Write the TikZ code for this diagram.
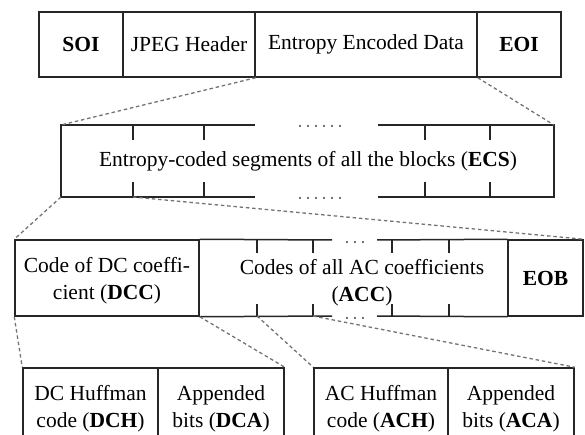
\documentclass[tikz,border=0pt]{standalone}
\usepackage{fontspec}
\setmainfont{Liberation Serif}
\begin{document}
\begin{tikzpicture}[x=1pt,y=-1pt,
  txt/.style={font=\fontsize{21.5}{27}\selectfont, align=center, inner sep=0pt},
  cell/.style={txt, draw=black!85, line width=1.5pt, rectangle},
  frame/.style={draw=black!85, line width=1.5pt},
  tickmark/.style={draw=black!85, line width=1.5pt},
  zoomline/.style={draw=black!55, line width=1.3pt, dash pattern=on 3.5pt off 2.8pt},
  dotmark/.style={fill=black!75, draw=none}]
\useasboundingbox (0,0) rectangle (585,435);
\clip (0,0) rectangle (585,435);

% ---- JPEG file layout ----
\node[cell, minimum width=84pt,  minimum height=65pt] (soi)  at (81,44.5)  {\textbf{SOI}};
\node[cell, minimum width=132pt, minimum height=65pt] (hdr)  at (189,44.5) {JPEG Header};
\node[cell, minimum width=222pt, minimum height=65pt] (data) at (366,44.5) {Entropy Encoded Data};
\node[cell, minimum width=84pt,  minimum height=65pt] (eoi)  at (519,44.5) {\textbf{EOI}};

% ---- entropy-coded segments (open frame with a gap) ----
\coordinate (ecsTL) at (61,125);
\coordinate (ecsBL) at (61,197);
\coordinate (ecsTR) at (554,125);
\coordinate (ecsBR) at (554,197);
\coordinate (ecsGapTL) at (255,125);
\coordinate (ecsGapBL) at (255,197);
\coordinate (ecsGapTR) at (378,125);
\coordinate (ecsGapBR) at (378,197);
\draw[frame] (ecsGapTL) -- (ecsTL) -- (ecsBL) -- (ecsGapBL);
\draw[frame] (ecsGapTR) -- (ecsTR) -- (ecsBR) -- (ecsGapBR);
\foreach \x in {133,204,425,490} {
  \draw[tickmark] (\x,125) -- (\x,140);
  \draw[tickmark] (\x,182) -- (\x,197);
}
\coordinate (ecsTick) at (133,197);
\foreach \i in {0,...,5} {
  \fill[dotmark] (300+8*\i,126) circle (1.2pt);
  \fill[dotmark] (300+8*\i,198) circle (1.2pt);
}
\node[txt] (ecs) at (308,161) {Entropy-coded segments of all the blocks (\textbf{ECS})};

% ---- one block: DC code, AC codes, end of block ----
\node[cell, minimum width=184pt, minimum height=76pt] (dcc) at (107,278) {};
\node[txt] (dccText) at (107,281) {Code of DC coeffi-\\cient (\textbf{DCC})};
\node[cell, minimum width=75pt, minimum height=76pt] (eob) at (545.5,278) {\textbf{EOB}};
\coordinate (accGapTL) at (332,240);
\coordinate (accGapTR) at (377,240);
\coordinate (accGapBL) at (332,316);
\coordinate (accGapBR) at (377,316);
\draw[frame] (dcc.north east) -- (accGapTL);
\draw[frame] (accGapTR) -- (eob.north west);
\draw[frame] (dcc.south east) -- (accGapBL);
\draw[frame] (accGapBR) -- (eob.south west);
\foreach \x in {257,313,392,449} {
  \draw[tickmark] (\x,240) -- (\x,253);
  \draw[tickmark] (\x,304) -- (\x,316);
}
\coordinate (accTickA) at (257,316);
\coordinate (accTickB) at (313,316);
\foreach \i in {0,1,2} {
  \fill[dotmark] (347+8*\i,242) circle (1.2pt);
  \fill[dotmark] (347+8*\i,318) circle (1.2pt);
}
\node[txt] (acc) at (362,283) {Codes of all AC coefficients\\(\textbf{ACC})};

% ---- Huffman code and appended bits ----
\node[cell, minimum width=135pt, minimum height=82pt] (dch) at (90.5,409) {DC Huffman\\code (\textbf{DCH})};
\node[cell, minimum width=126pt, minimum height=82pt] (dca) at (221,409)  {Appended\\bits (\textbf{DCA})};
\node[cell, minimum width=134pt, minimum height=82pt] (ach) at (381,409)  {AC Huffman\\code (\textbf{ACH})};
\node[cell, minimum width=126pt, minimum height=82pt] (aca) at (511,409)  {Appended\\bits (\textbf{ACA})};

% ---- zoom-in guides ----
\draw[zoomline] (hdr.south east) -- (ecsTL);
\draw[zoomline] (data.south east) -- (ecsTR);
\draw[zoomline] (ecsBL) -- (dcc.north west);
\draw[zoomline] (ecsTick) -- (eob.north east);
\draw[zoomline] (dcc.south west) -- (dch.north west);
\draw[zoomline] (dcc.south east) -- (dca.north east);
\draw[zoomline] (accTickA) -- (ach.north west);
\draw[zoomline] (accTickB) -- (aca.north east);
\end{tikzpicture}
\end{document}
